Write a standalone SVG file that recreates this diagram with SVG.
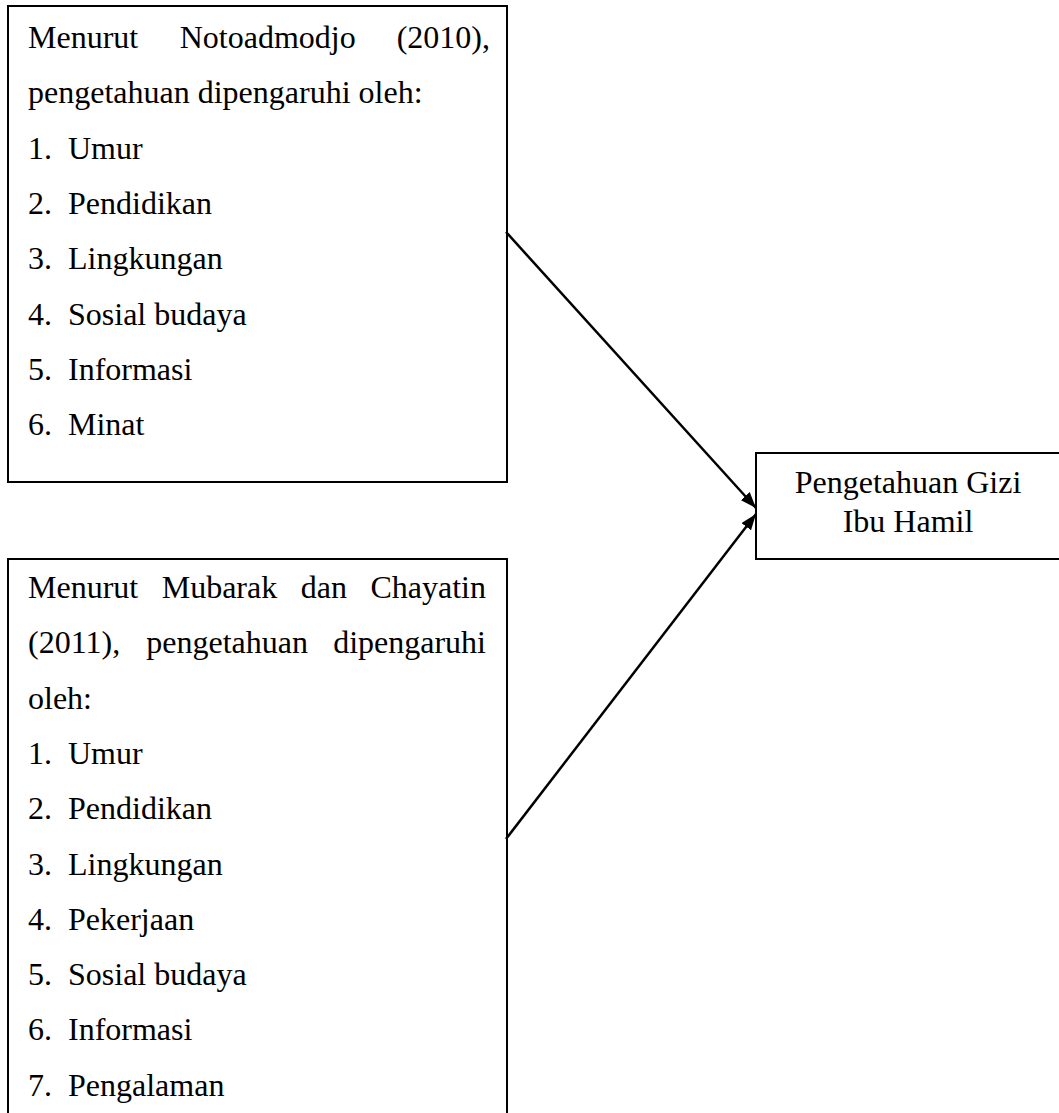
<svg xmlns="http://www.w3.org/2000/svg" width="1059" height="1113" viewBox="0 0 1059 1113">
  <style>
    .box { fill: #fff; stroke: #000; stroke-width: 2; }
    text { font-family: "Liberation Serif", "Times New Roman", serif; font-size: 32px; fill: #000; }
    .c { text-anchor: middle; }
    .e { text-anchor: end; }
    .conn { stroke: #000; stroke-width: 2.5; fill: none; }
  </style>
  <defs>
    <marker id="arrowhead" viewBox="0 0 16 12" refX="16" refY="6" markerWidth="16" markerHeight="12" markerUnits="userSpaceOnUse" orient="auto">
      <path d="M0,0 L16,6 L0,12 z" fill="#000"/>
    </marker>
  </defs>
  <rect x="0" y="0" width="1059" height="1113" fill="#fff"/>

  <g id="node-notoadmodjo">
    <rect class="box" x="8" y="6" width="499" height="476"/>
    <text x="28" y="48">Menurut</text>
    <text x="179.7" y="48">Notoadmodjo</text>
    <text class="e" x="490" y="48">(2010),</text>
    <text x="28" y="103.3">pengetahuan dipengaruhi oleh:</text>
    <text x="28" y="158.6">1.</text><text x="68" y="158.6">Umur</text>
    <text x="28" y="213.9">2.</text><text x="68" y="213.9">Pendidikan</text>
    <text x="28" y="269.2">3.</text><text x="68" y="269.2">Lingkungan</text>
    <text x="28" y="324.5">4.</text><text x="68" y="324.5">Sosial budaya</text>
    <text x="28" y="379.8">5.</text><text x="68" y="379.8">Informasi</text>
    <text x="28" y="435.1">6.</text><text x="68" y="435.1">Minat</text>
  </g>

  <g id="node-mubarak">
    <rect class="box" x="8" y="559" width="499" height="600"/>
    <text x="28" y="598">Menurut</text>
    <text x="161.7" y="598">Mubarak</text>
    <text x="300.7" y="598">dan</text>
    <text class="e" x="486" y="598">Chayatin</text>
    <text x="28" y="653.3">(2011),</text>
    <text x="146.3" y="653.3">pengetahuan</text>
    <text class="e" x="486" y="653.3">dipengaruhi</text>
    <text x="28" y="708.6">oleh:</text>
    <text x="28" y="763.9">1.</text><text x="68" y="763.9">Umur</text>
    <text x="28" y="819.2">2.</text><text x="68" y="819.2">Pendidikan</text>
    <text x="28" y="874.5">3.</text><text x="68" y="874.5">Lingkungan</text>
    <text x="28" y="929.8">4.</text><text x="68" y="929.8">Pekerjaan</text>
    <text x="28" y="985.1">5.</text><text x="68" y="985.1">Sosial budaya</text>
    <text x="28" y="1040.4">6.</text><text x="68" y="1040.4">Informasi</text>
    <text x="28" y="1095.7">7.</text><text x="68" y="1095.7">Pengalaman</text>
  </g>

  <g id="node-pengetahuan-gizi">
    <rect class="box" x="756" y="453" width="320" height="106"/>
    <text class="c" x="908" y="493">Pengetahuan Gizi</text>
    <text class="c" x="908" y="532">Ibu Hamil</text>
  </g>

  <g id="connectors">
    <line class="conn" x1="506" y1="232" x2="756" y2="508" marker-end="url(#arrowhead)"/>
    <line class="conn" x1="506" y1="839" x2="756" y2="514" marker-end="url(#arrowhead)"/>
  </g>
</svg>
